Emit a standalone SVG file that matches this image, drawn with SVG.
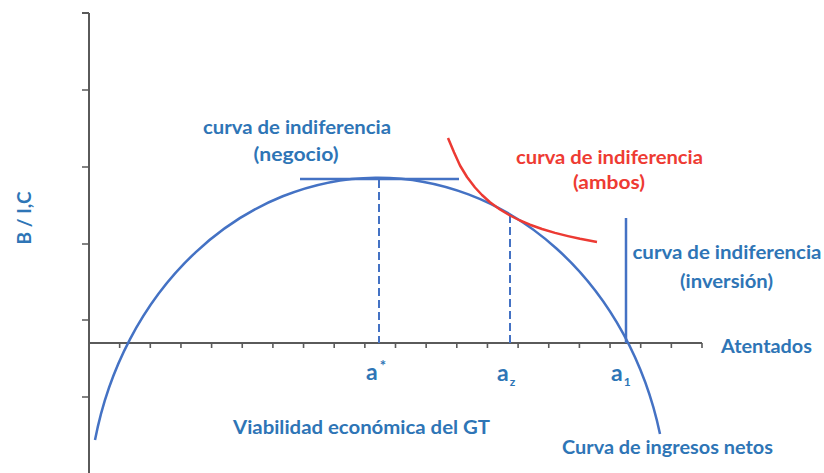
<svg xmlns="http://www.w3.org/2000/svg" width="824" height="473" viewBox="0 0 824 473">
<style>
.ax{stroke:#5a5a5a;stroke-width:2;fill:none}
.tk{stroke:#5a5a5a;stroke-width:1.6}
.bl{stroke:#4472C4;stroke-width:2.5;fill:none}
.rd{stroke:#EC3A33;stroke-width:2.5;fill:none;stroke-linejoin:round}
.ds{stroke:#4472C4;stroke-width:2;stroke-dasharray:8 4;fill:none}
text{font-family:Lato,"Open Sans","Liberation Sans",sans-serif;font-weight:bold;font-size:18px;fill:#2E75B6}
.r{fill:#EE3B33}
.a{font-size:23px}
</style>
<rect width="824" height="473" fill="#fff"/>
<g id="axes">
<path class="ax" d="M89 13V473M82 13H89M89 343H702"/>
<path class="tk" d="M82 90H89M82 167H89M82 244H89M82 320H89M82 397H89"/>
<path class="tk" d="M119.65 343v5M150.3 343v5M180.95 343v5M211.6 343v5M242.25 343v5M272.9 343v5M303.55 343v5M334.2 343v5M364.85 343v5M395.5 343v5M426.15 343v5M456.8 343v5M487.45 343v5M518.1 343v5M548.75 343v5M579.4 343v5M610.05 343v5M640.7 343v5M671.35 343v5M702 343v5"/>
</g>
<g id="ingresos">
<path class="bl" d="M95 440A290 335 0 0 1 660 434"/>
</g>
<g id="connectors">
<path class="ds" d="M379 180V343"/>
<path class="ds" d="M510 215V343"/>
</g>
<g id="negocio">
<path class="bl" d="M300 179H459"/>
<text x="297" y="134" text-anchor="middle" textLength="188" lengthAdjust="spacingAndGlyphs">curva de indiferencia</text>
<text x="296" y="161" text-anchor="middle" textLength="85" lengthAdjust="spacingAndGlyphs">(negocio)</text>
</g>
<g id="ambos">
<path class="rd" d="M448 138L454 152.3L460 165.5L467 177L475 187.5L482 195.0L490 202.2L500 209.5L510 215.5L520 220.5L530 224.7L542 229L555 232.9L568 236.1L580 238.8L597 242"/>
<text class="r" x="609.5" y="164" text-anchor="middle" textLength="187" lengthAdjust="spacingAndGlyphs">curva de indiferencia</text>
<text class="r" x="609" y="189" text-anchor="middle" textLength="72" lengthAdjust="spacingAndGlyphs">(ambos)</text>
</g>
<g id="inversion">
<path class="bl" d="M626 218V343"/>
<text x="727" y="259" text-anchor="middle" textLength="189" lengthAdjust="spacingAndGlyphs">curva de indiferencia</text>
<text x="726.5" y="288" text-anchor="middle" textLength="93" lengthAdjust="spacingAndGlyphs">(inversión)</text>
</g>
<g id="labels">
<text x="721" y="353" textLength="91" lengthAdjust="spacingAndGlyphs">Atentados</text>
<text class="a" x="366" y="380">a<tspan font-size="15" dx="2" dy="-9">*</tspan></text>
<text class="a" x="497" y="381">a<tspan font-size="12" dx="1" dy="5">z</tspan></text>
<text class="a" x="611" y="381">a<tspan font-size="12" dx="1" dy="5">1</tspan></text>
<text x="233" y="434" textLength="257" lengthAdjust="spacingAndGlyphs">Viabilidad económica del GT</text>
<text x="562" y="454" textLength="211" lengthAdjust="spacingAndGlyphs">Curva de ingresos netos</text>
<text transform="translate(31 218) rotate(-90)" text-anchor="middle" font-size="17" textLength="53" lengthAdjust="spacingAndGlyphs">B / I,C</text>
</g>
</svg>
